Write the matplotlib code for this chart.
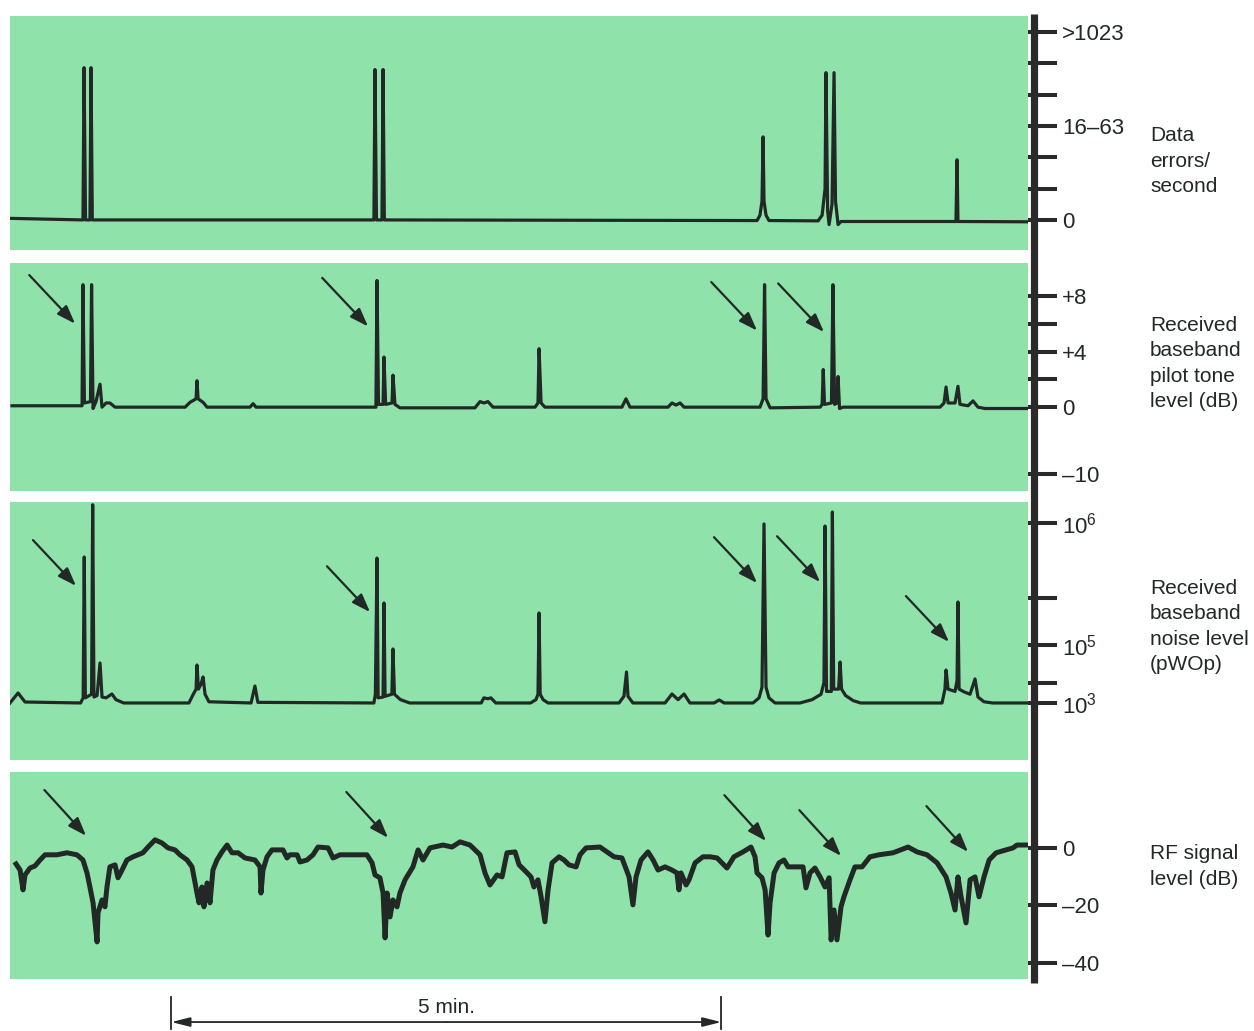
import numpy as np
import matplotlib
matplotlib.use("Agg")
import matplotlib.pyplot as plt
from matplotlib.lines import Line2D

plt.rcParams['font.family'] = ['Liberation Sans', 'DejaVu Sans']
plt.rcParams['mathtext.fontset'] = 'custom'
plt.rcParams['mathtext.rm'] = 'Liberation Sans'

# time axis in seconds, events
# data errors / second (tick index 0..6)
errors = [(0, 0.05), (39.8, 0.0), (40.4, 4.86), (41.2, 0.0), (43.6, 0.0),
          (44.2, 4.86), (44.9, 0.0), (198.5, 0.0), (199.1, 4.8), (199.9, 0.0),
          (202.9, 0.0), (203.5, 4.8), (204.2, 0.0), (407.5, -0.02),
          (409.1, 0.15), (410.2, 0.6), (410.8, 2.65), (411.3, 0.6),
          (412.4, 0.15), (414.0, -0.02), (440.8, -0.03), (443.0, 0.15),
          (444.6, 1.0), (445.1, 4.7), (446.0, 0.3), (446.8, -0.15),
          (448.4, 0.5), (449.5, 4.7), (450.3, 0.6), (451.7, -0.15),
          (453.3, -0.05), (516.0, -0.05), (516.6, 1.92), (517.1, -0.05),
          (555.3, -0.06)]

# received baseband pilot tone level (dB)
pilot = [(1.1, 0.1), (39.3, 0.1), (39.8, 8.8), (40.6, 0.3), (43.9, 0.4),
         (44.5, 8.8), (45.3, -0.2), (46.9, 0.4), (49.1, 1.65), (50.2, 0.0),
         (52.4, 0.3), (54.5, 0.3), (57.3, 0.0), (95.5, 0.0), (98.2, 0.35),
         (101.5, 0.6), (102.0, 1.9), (102.6, 0.6), (105.3, 0.35), (107.5, 0.0),
         (130.9, 0.0), (132.6, 0.25), (134.2, 0.0), (199.6, 0.0), (200.2, 9.1),
         (201.0, 0.2), (203.5, 0.2), (204.0, 3.6), (204.9, 0.2), (208.4, 0.3),
         (208.9, 2.3), (210.0, 0.2), (212.7, -0.1), (253.6, -0.1), (256.4, 0.4),
         (258.5, 0.3), (260.7, 0.4), (263.5, 0.0), (286.4, 0.0), (288.0, 0.3),
         (288.6, 4.2), (289.7, 0.3), (291.8, 0.0), (333.8, 0.0), (336.0, 0.6),
         (338.2, 0.0), (358.9, 0.0), (361.1, 0.3), (363.3, 0.15), (365.5, 0.3),
         (367.7, 0.0), (409.1, 0.0), (410.8, 0.6), (411.6, 8.8), (412.4, 0.6),
         (414.6, -0.1), (441.9, 0.0), (443.0, 0.2), (443.6, 2.7), (444.3, 0.2),
         (448.1, 0.3), (448.9, 8.8), (449.8, 0.2), (451.1, 0.3), (451.7, 2.2),
         (452.5, -0.2), (454.4, 0.0), (507.3, 0.0), (509.5, 0.3), (510.6, 1.45),
         (511.7, 0.3), (515.5, 0.3), (517.1, 1.5), (518.2, 0.2), (522.6, 0.1),
         (525.3, 0.45), (528.0, 0.0), (531.8, -0.2), (555.3, -0.2)]

# received baseband noise level (pWOp)
noise = [(0, 1000), (4.4, 2210), (8.2, 1080), (38.5, 1000), (39.9, 1500),
         (40.5, 526000), (41.1, 1500), (44.5, 2000), (45.1, 1410000),
         (45.8, 1600), (47.5, 1800), (49.1, 23900), (50.2, 1600), (52.4, 1500),
         (55.6, 2040), (57.8, 1300), (62.0, 1000), (97.6, 1000), (99.8, 1900),
         (101.5, 3000), (102.0, 20400), (102.8, 3000), (104.2, 4500),
         (105.3, 7890), (106.4, 2000), (108.5, 1100), (131.5, 1000),
         (133.6, 3850), (135.2, 1050), (198.5, 1000), (199.3, 2000),
         (200.2, 516000), (200.8, 1500), (203.5, 1600), (204.0, 221000),
         (204.6, 1700), (208.3, 2000), (208.9, 72700), (209.7, 2000),
         (213.0, 1300), (218.0, 1000), (257.0, 1000), (258.5, 1500),
         (260.7, 1400), (262.3, 1500), (265.0, 1000), (283.9, 1000),
         (286.9, 1300), (288.0, 2000), (288.6, 183000), (289.2, 2000),
         (290.8, 1300), (293.5, 1000), (332.2, 1000), (334.9, 1700),
         (336.3, 11700), (337.1, 1700), (339.8, 1000), (357.3, 1000),
         (361.1, 2040), (364.4, 1300), (367.7, 2040), (370.9, 1000),
         (384.1, 1000), (386.8, 1270), (389.6, 1000), (405.3, 1000),
         (408.6, 1500), (410.2, 3500), (411.3, 981000), (412.4, 3500),
         (414.0, 1500), (417.3, 1000), (430.9, 1000), (437.5, 1300),
         (442.4, 2000), (444.0, 5000), (444.6, 944000), (445.4, 2500),
         (448.0, 2500), (448.6, 1230000), (449.3, 3000), (452.0, 3000),
         (452.8, 25900), (453.6, 3000), (455.8, 1800), (460.0, 1200),
         (464.0, 1000), (508.4, 1000), (510.0, 3000), (510.6, 13700),
         (511.7, 3000), (515.5, 2500), (516.6, 6000), (517.1, 225000),
         (517.7, 3000), (520.5, 2400), (523.7, 2000), (526.4, 6730),
         (528.0, 1600), (531.3, 1100), (536.0, 1000), (555.3, 1000)]

# RF signal level (dB)
rf = [(3.3, -5.6), (5.5, -7.7), (7.1, -14.6), (8.2, -9.4), (10.9, -7.0),
      (13.6, -6.3), (16.4, -4.2), (19.1, -2.4), (25.6, -2.4), (31.1, -1.7),
      (36.5, -2.4), (39.8, -4.2), (42.0, -8.7), (43.6, -13.6), (45.3, -19.1),
      (47.5, -32.7), (48.0, -22.6), (50.2, -18.1), (51.8, -20.5), (52.9, -13.6),
      (54.5, -6.6), (57.3, -5.9), (58.9, -10.4), (61.1, -7.7), (63.8, -4.2),
      (67.1, -3.1), (72.5, -1.7), (75.3, 0.3), (79.1, 2.8), (82.9, 1.7),
      (86.2, 0.0), (90.0, -0.7), (92.7, -2.4), (96.6, -4.2), (99.3, -6.6),
      (102.0, -15.7), (103.1, -19.1), (104.7, -13.6), (105.8, -20.5),
      (107.5, -12.2), (109.1, -19.1), (110.7, -7.7), (112.9, -4.2),
      (115.6, -1.4), (118.4, 1.0), (121.1, -1.7), (124.4, -1.7), (128.2, -3.5),
      (133.6, -4.2), (136.4, -6.6), (136.9, -15.7), (138.0, -7.7),
      (140.2, -3.1), (142.9, -0.7), (148.9, -0.7), (151.1, -3.5),
      (152.7, -2.4), (156.6, -2.4), (158.2, -4.9), (162.0, -4.2),
      (165.3, -2.4), (168.0, 0.3), (173.5, 0.0), (176.2, -3.5), (180.0, -2.4),
      (194.7, -2.4), (197.5, -5.2), (199.1, -9.4), (201.8, -10.4),
      (203.5, -15.7), (204.6, -31.3), (205.7, -15.7), (207.3, -24.0),
      (208.9, -18.1), (211.1, -20.5), (212.7, -15.7), (215.5, -11.1),
      (219.8, -6.6), (222.6, -0.7), (225.3, -4.2), (229.1, 0.0), (236.2, 1.0),
      (241.1, 0.3), (245.5, 2.1), (250.9, 1.0), (256.4, -2.4), (259.1, -8.7),
      (261.8, -12.9), (265.7, -9.4), (268.4, -10.1), (271.1, -1.7),
      (275.5, -1.4), (277.7, -5.9), (281.5, -8.3), (284.2, -10.1),
      (285.8, -13.6), (288.0, -11.1), (289.7, -17.0), (291.8, -25.7),
      (293.5, -14.6), (295.7, -5.2), (299.5, -3.1), (302.2, -4.2),
      (304.9, -5.9), (308.8, -6.6), (310.9, -2.4), (314.2, 0.0), (321.8, 0.3),
      (325.7, -1.4), (329.5, -3.1), (333.8, -3.5), (337.7, -10.1),
      (339.8, -19.8), (341.5, -10.1), (344.2, -4.2), (348.0, -1.4),
      (350.8, -4.2), (353.5, -7.7), (357.3, -6.6), (361.1, -7.7),
      (363.8, -8.7), (364.9, -14.6), (366.0, -8.7), (368.8, -12.9),
      (370.4, -11.1), (373.7, -5.2), (378.0, -3.1), (381.9, -3.1),
      (385.7, -3.5), (391.1, -7.0), (394.9, -3.1), (399.8, -1.4), (404.2, 0.3),
      (406.4, -3.1), (407.5, -8.7), (410.2, -10.4), (411.9, -14.6),
      (413.5, -30.3), (414.6, -19.1), (416.8, -8.7), (419.5, -5.2),
      (422.2, -4.2), (424.4, -6.6), (428.8, -6.6), (432.6, -6.6),
      (434.2, -13.9), (436.4, -8.7), (439.1, -7.0), (441.9, -10.1),
      (444.6, -13.6), (446.8, -10.4), (447.9, -32.0), (449.5, -21.6),
      (451.1, -32.0), (453.3, -20.5), (454.9, -17.0), (458.2, -11.1),
      (460.9, -6.6), (464.8, -6.6), (469.1, -3.1), (474.0, -2.4),
      (481.7, -1.7), (489.9, 0.3), (494.8, -1.4), (500.2, -2.4), (505.7, -5.2),
      (510.6, -10.1), (513.3, -15.7), (515.5, -21.6), (517.1, -10.1),
      (518.8, -17.0), (521.5, -26.1), (523.7, -11.1), (526.4, -10.1),
      (528.6, -17.0), (531.3, -10.1), (534.1, -4.2), (537.9, -1.7),
      (543.3, -0.7), (547.1, 0.0), (549.3, 1.0), (552.6, 1.0), (555.9, 1.0)]

# arrow heads (time, level) marking the fades
pilot_arrows = [(35.5, 6.0), (195.3, 5.8), (407.5, 5.5), (444.0, 5.4)]
noise_arrows = [(36.0, 305000), (196.4, 186000), (407.5, 322000),
                (441.9, 328000), (512.2, 106000)]
rf_arrows = [(41.5, 4.2), (206.2, 3.5), (412.4, 2.4), (453.3, -2.8),
             (522.6, -1.4)]

err_ticks = [0, 1, 2, 3, 4, 5, 6]
err_labels = ['0', '', '', '16\u201363', '', '', '>1023']
pilot_ticks = [8, 6, 4, 2, 0, -10]
pilot_labels = ['+8', '', '+4', '', '0', '\u201310']
noise_ticks = [1e3, 4.9e3, 1e5, 2.43e5, 1e6]
noise_labels = [r'$\mathregular{10^3}$', '', r'$\mathregular{10^5}$', '',
                r'$\mathregular{10^6}$']
rf_ticks = [0, -20, -40]
rf_labels = ['0', '\u201320', '\u201340']

names = ['Data\nerrors/\nsecond',
         'Received\nbaseband\npilot tone\nlevel (dB)',
         'Received\nbaseband\nnoise level\n(pWOp)',
         'RF signal\nlevel (dB)']

scale_start = 88
scale_len = 300

GREEN = '#8fe3aa'
INK = '#222826'
W, H = 1254, 1031


def pilot_fwd(v):
    v = np.asarray(v, dtype=float)
    return np.where(v >= 0, v, v * 0.482)


def pilot_inv(p):
    p = np.asarray(p, dtype=float)
    return np.where(p >= 0, p, p / 0.482)


def noise_fwd(v):
    lg = np.log10(np.clip(np.asarray(v, dtype=float), 1e-9, None))
    return np.where(lg < 5, (lg - 3) * 29, 58 + (lg - 5) * 122)


def noise_inv(p):
    p = np.asarray(p, dtype=float)
    lg = np.where(p < 58, 3 + p / 29, 5 + (p - 58) / 122)
    return 10 ** lg


def panel(top, bottom, left=10, right=1028):
    return fig.add_axes([left / W, 1 - bottom / H, (right - left) / W,
                         (bottom - top) / H])


fig = plt.figure(figsize=(12.54, 10.31), dpi=100)

ax1 = panel(16, 250)
ax2 = panel(263, 491)
ax3 = panel(502, 760)
ax4 = panel(772, 979)
axes = [ax1, ax2, ax3, ax4]

ax2.set_yscale('function', functions=(pilot_fwd, pilot_inv))
ax3.set_yscale('function', functions=(noise_fwd, noise_inv))

series = [errors, pilot, noise, rf]
widths = [2.3, 2.3, 2.3, 3.6]
for ax, s, lw in zip(axes, series, widths):
    t, v = zip(*s)
    ax.plot(t, v, color=INK, lw=lw, solid_joinstyle='round')

ax1.set_ylim(-0.96, 6.51)
ax2.set_ylim(-12.5, 10.36)
ax3.set_ylim(10.8, 1.486e6)
ax4.set_ylim(-45.6, 26.4)

ticks = [(err_ticks, err_labels), (pilot_ticks, pilot_labels),
         (noise_ticks, noise_labels), (rf_ticks, rf_labels)]
for ax, (tk, lb) in zip(axes, ticks):
    ax.set_facecolor(GREEN)
    ax.set_xlim(0, 555.3)
    for sp in ax.spines.values():
        sp.set_visible(False)
    ax.set_xticks([])
    ax.yaxis.tick_right()
    ax.set_yticks(tk)
    ax.set_yticklabels(lb)
    ax.minorticks_off()
    ax.tick_params(axis='y', which='major', length=21, width=2.9,
                   color='#2a2a2a', pad=3.5, labelsize=16, labelcolor=INK)

arrow_sets = [(ax2, pilot_arrows, (-33, 35)), (ax3, noise_arrows, (-31, 33)),
              (ax4, rf_arrows, (-30, 33))]
for ax, heads, off in arrow_sets:
    for t, v in heads:
        ax.annotate('', xy=(t, v), xytext=off, textcoords='offset points',
                    arrowprops=dict(arrowstyle='-|>,head_length=0.7,head_width=0.25',
                                    lw=1.6, color=INK, shrinkA=0, shrinkB=0,
                                    mutation_scale=16))

# vertical scale bar on the right
fig.add_artist(Line2D([1034 / W, 1034 / W], [1 - 14 / H, 1 - 983 / H],
                      color='#2a2a2a', lw=5.2, solid_capstyle='butt'))

label_centers = [161, 363.5, 626.5, 866.5]
for txt, yc in zip(names, label_centers):
    fig.text(1150 / W, 1 - yc / H, txt, ha='left', va='center',
             fontsize=15, color=INK, linespacing=1.42)

# 5 minute time marker
tr = ax4.get_xaxis_transform()
mid = scale_start + scale_len / 2
for end in (scale_start, scale_start + scale_len):
    ax4.annotate('', xy=(end, -0.208), xytext=(mid, -0.208),
                 xycoords=tr, textcoords=tr, annotation_clip=False,
                 arrowprops=dict(arrowstyle='-|>,head_length=0.8,head_width=0.2',
                                 lw=1.3, color=INK, shrinkA=0, shrinkB=0,
                                 mutation_scale=14))
    ax4.plot([end, end], [-0.087, -0.242], transform=tr, color=INK, lw=1.3,
             clip_on=False)
ax4.text(mid, -0.14, '5 min.', transform=tr, ha='center', va='center',
         fontsize=15, color=INK)

fig.savefig('out.png', dpi=100)
